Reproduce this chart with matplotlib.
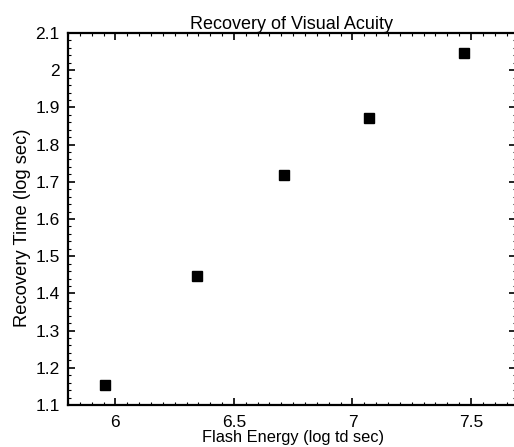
import matplotlib
matplotlib.use('Agg')
import matplotlib.pyplot as plt
from matplotlib.ticker import MultipleLocator

# Data
flash_energy = [5.958, 6.345, 6.71, 7.07, 7.47]
recovery_time = [1.154, 1.447, 1.718, 1.872, 2.045]

x_ticks = [6, 6.5, 7, 7.5]
x_tick_labels = ['6', '6.5', '7', '7.5']
y_ticks = [1.1, 1.2, 1.3, 1.4, 1.5, 1.6, 1.7, 1.8, 1.9, 2.0, 2.1]
y_tick_labels = ['1.1', '1.2', '1.3', '1.4', '1.5', '1.6', '1.7', '1.8', '1.9', '2', '2.1']

plt.rcParams['font.family'] = ['Liberation Sans', 'DejaVu Sans']

fig = plt.figure(figsize=(5.14, 4.47), dpi=100)
ax = fig.add_axes([68 / 514, 42 / 447, 448 / 514, 372 / 447])

ax.plot(flash_energy, recovery_time, 's', color='black', markersize=7.5, clip_on=False)

ax.set_xlim(5.8, 7.69)
ax.set_ylim(1.1, 2.1)
ax.set_xticks(x_ticks)
ax.set_xticklabels(x_tick_labels)
ax.set_yticks(y_ticks)
ax.set_yticklabels(y_tick_labels)
ax.xaxis.set_minor_locator(MultipleLocator(0.05))
ax.yaxis.set_minor_locator(MultipleLocator(0.02))

ax.tick_params(which='both', direction='in', top=True, right=True, labelsize=12.5)
ax.tick_params(axis='x', pad=7)
ax.tick_params(axis='y', pad=6)
ax.tick_params(which='major', length=5, width=1.2)
ax.tick_params(which='minor', length=2.5, width=0.8)

for s in ax.spines.values():
    s.set_linewidth(1.6)

ax.set_title('Recovery of Visual Acuity', fontsize=13, pad=3)
ax.set_xlabel('Flash Energy (log td sec)', fontsize=11.8)
ax.xaxis.set_label_coords(0.503, -0.066)
ax.set_ylabel('Recovery Time (log sec)', fontsize=13.2)
ax.yaxis.set_label_coords(-0.082, 0.476)

fig.savefig('out.png', dpi=100)
